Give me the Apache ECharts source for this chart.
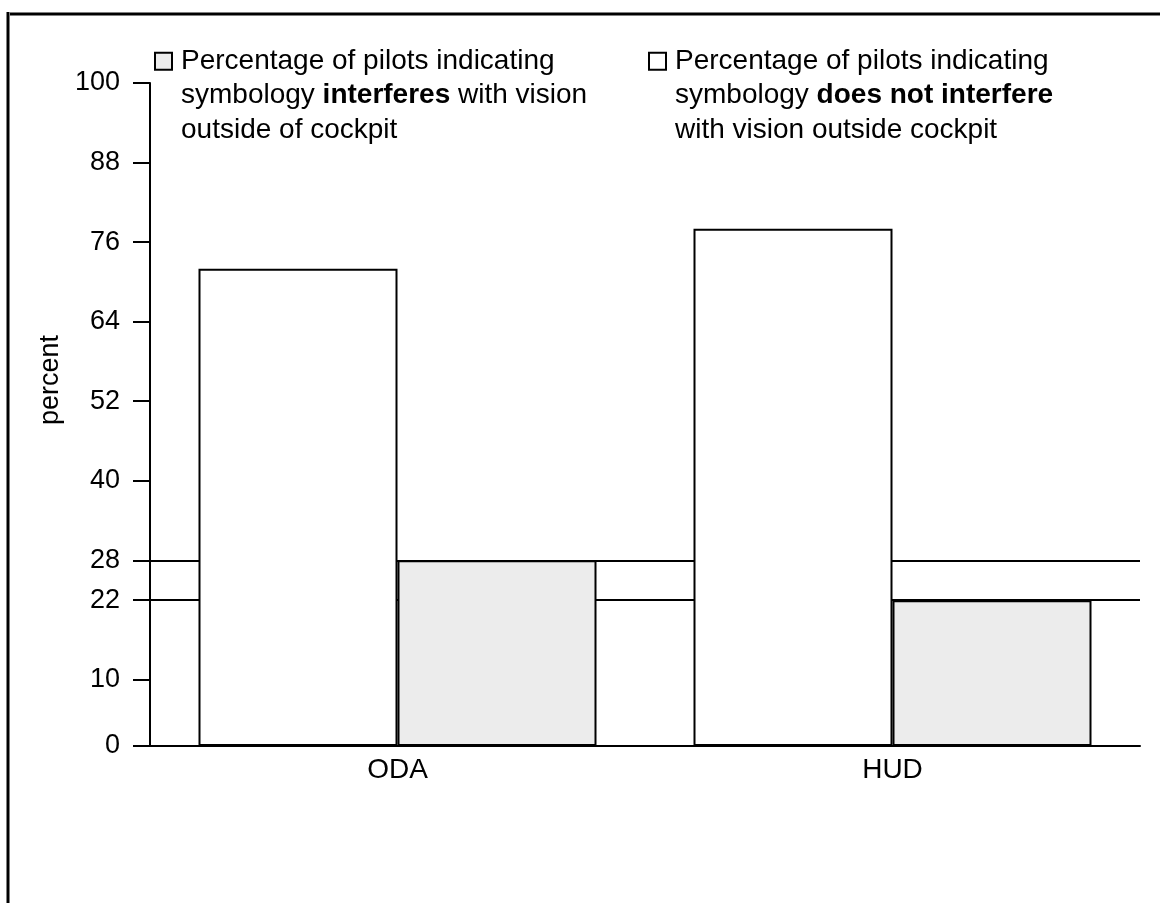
<!DOCTYPE html>
<html>
<head>
<meta charset="utf-8">
<script src="https://cdn.jsdelivr.net/npm/echarts@6/dist/echarts.min.js"></script>
<style>html,body{margin:0;padding:0;background:#fff}#c{width:1160px;height:903px}</style>
</head>
<body>
<div id="c"></div>
<script>
var categories = ['ODA', 'HUD'];
var notInterfere = [72, 78];
var interferes = [28, 22];
var yTicks = [0, 10, 22, 28, 40, 52, 64, 76, 88, 100];
var refLines = [28, 22];
var seriesNames = ['interferes', 'does not interfere'];

var chart = echarts.init(document.getElementById('c'));
var font = 'Liberation Sans, Arial, sans-serif';
var LH = 34.5;
var richBase = {
  n: { fontSize: 28, fontFamily: font, color: '#000', lineHeight: LH },
  b: { fontSize: 28, fontFamily: font, color: '#000', fontWeight: 'bold', lineHeight: LH }
};
function legendCfg(name, left, fmt) {
  return {
    data: [name],
    left: left,
    top: -25,
    padding: 0,
    itemWidth: 17,
    itemHeight: 17,
    icon: 'rect',
    selectedMode: false,
    formatter: function () { return fmt; },
    textStyle: { padding: [2 * LH, 0, 0, 4], rich: richBase, fontFamily: font, fontSize: 28, lineHeight: LH, color: '#000' }
  };
}
chart.setOption({
  animation: false,
  backgroundColor: '#fff',
  legend: [
    legendCfg(seriesNames[0], 154, '{n|Percentage of pilots indicating}\n{n|symbology }{b|interferes}{n| with vision}\n{n|outside of cockpit}'),
    legendCfg(seriesNames[1], 648, '{n|Percentage of pilots indicating}\n{n|symbology }{b|does not interfere}\n{n|with vision outside cockpit}')
  ],
  grid: { left: 150, right: 20, top: 83, bottom: 157, containLabel: false },
  xAxis: {
    type: 'category',
    data: categories,
    axisLine: { lineStyle: { color: '#000', width: 2 } },
    axisTick: { show: false },
    axisLabel: { color: '#000', fontSize: 28, fontFamily: font, margin: 10 }
  },
  yAxis: {
    type: 'value',
    min: 0,
    max: 100,
    name: 'percent',
    nameLocation: 'middle',
    nameGap: 86,
    nameTextStyle: { color: '#000', fontSize: 27, fontFamily: font, padding: [0, 0, 0, 69] },
    axisLine: { show: true, lineStyle: { color: '#000', width: 2 } },
    axisTick: { show: true, length: 17, customValues: yTicks, lineStyle: { color: '#000', width: 2 } },
    axisLabel: { color: '#000', fontSize: 27, fontFamily: font, margin: 30, customValues: yTicks },
    splitLine: { show: false }
  },
  series: [
    {
      name: seriesNames[1],
      type: 'bar',
      data: notInterfere,
      barWidth: 199,
      barGap: '0%',
      z: 3,
      itemStyle: { color: '#ffffff', borderColor: '#000', borderWidth: 2 },
      markLine: {
        silent: true,
        symbol: 'none',
        z: 1,
        label: { show: false },
        lineStyle: { color: '#000', width: 2, type: 'solid' },
        data: refLines.map(function (v) { return { yAxis: v }; })
      }
    },
    {
      name: seriesNames[0],
      type: 'bar',
      data: interferes,
      barWidth: 199,
      barGap: '0%',
      z: 3,
      itemStyle: { color: '#ececec', borderColor: '#000', borderWidth: 2 }
    }
  ],
  graphic: [
    { type: 'line', shape: { x1: 10, y1: 14, x2: 1160, y2: 14 }, style: { stroke: '#000', lineWidth: 3 } },
    { type: 'line', shape: { x1: 8, y1: 12, x2: 8, y2: 903 }, style: { stroke: '#000', lineWidth: 3 } }
  ]
});
</script>
</body>
</html>
